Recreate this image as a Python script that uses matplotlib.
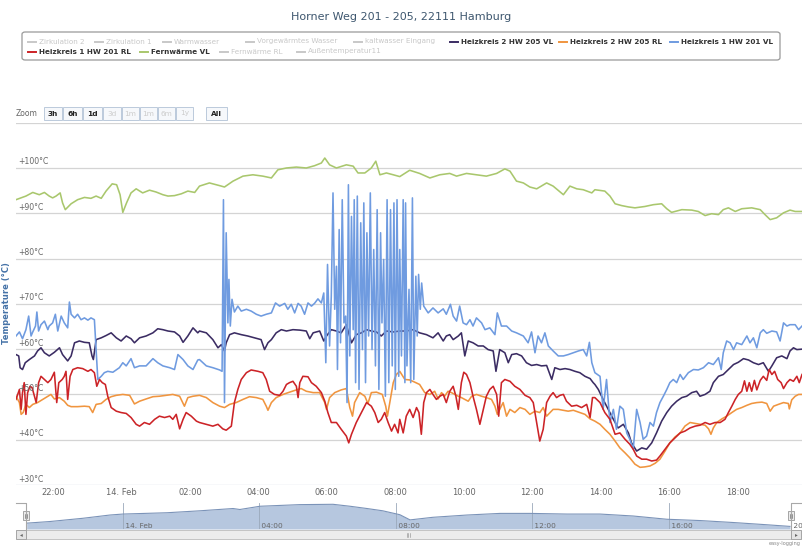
import matplotlib
matplotlib.use("Agg")
import matplotlib.pyplot as plt
from matplotlib.patches import Rectangle, FancyBboxPatch
from matplotlib.lines import Line2D
import matplotlib.transforms as mtransforms

W, H = 802, 546

# ---------------- data (hours relative to 14. Feb 00:00, °C) ----------------
fernwaerme_vl = [
    (-3.08, 93.0), (-2.79, 93.8), (-2.59, 94.6), (-2.40, 94.1), (-2.25, 94.6), (-2.11, 93.8), (-2.01, 93.4),
    (-1.91, 93.8), (-1.79, 94.5), (-1.72, 92.3), (-1.64, 90.8), (-1.47, 92.1), (-1.28, 93.0), (-1.08, 93.5),
    (-0.89, 93.3), (-0.74, 93.8), (-0.59, 93.3), (-0.45, 94.9), (-0.27, 96.5), (-0.14, 96.3), (-0.04, 94.1),
    (0.04, 90.2), (0.15, 92.3), (0.28, 94.5), (0.43, 95.4), (0.62, 94.5), (0.82, 95.1), (1.01, 94.7),
    (1.21, 94.1), (1.36, 93.8), (1.55, 93.9), (1.75, 94.3), (1.94, 94.9), (2.14, 94.6), (2.28, 96.0),
    (2.57, 96.7), (2.87, 96.1), (3.01, 95.8), (3.26, 97.1), (3.55, 98.2), (3.84, 98.5), (4.13, 98.2),
    (4.38, 97.8), (4.57, 99.6), (4.82, 100.0), (5.11, 100.2), (5.40, 100.0), (5.64, 100.5), (5.84, 101.1),
    (5.94, 102.2), (6.08, 100.7), (6.28, 100.0), (6.57, 100.7), (6.77, 100.4), (6.91, 98.9), (7.11, 98.9),
    (7.30, 100.0), (7.43, 101.5), (7.55, 98.5), (7.74, 98.9), (7.94, 98.5), (8.13, 98.1), (8.42, 99.5),
    (8.71, 98.8), (9.01, 97.8), (9.30, 98.5), (9.59, 98.8), (9.79, 98.2), (10.08, 98.8), (10.37, 98.5),
    (10.66, 98.2), (10.96, 98.8), (11.20, 99.8), (11.35, 99.3), (11.54, 97.1), (11.74, 96.7), (11.93, 95.8),
    (12.13, 95.4), (12.42, 96.7), (12.61, 96.0), (12.91, 94.1), (13.10, 96.0), (13.30, 95.4), (13.49, 95.2),
    (13.74, 94.5), (13.83, 95.2), (14.12, 94.9), (14.27, 93.8), (14.42, 92.1), (14.61, 91.7), (14.81, 91.4),
    (15.00, 91.2), (15.29, 91.5), (15.54, 91.9), (15.78, 92.1), (15.93, 91.0), (16.07, 90.2), (16.37, 90.8),
    (16.66, 90.7), (16.85, 90.4), (17.05, 89.5), (17.24, 89.9), (17.44, 89.7), (17.58, 90.8), (17.73, 91.2),
    (17.93, 90.4), (18.12, 91.0), (18.41, 91.2), (18.66, 90.8), (18.80, 89.7), (18.95, 88.6), (19.14, 89.0),
    (19.34, 90.1), (19.53, 90.7), (19.68, 90.4), (19.88, 90.4)]

hk1_vl = [
    (-3.08, 62.9), (-2.98, 63.8), (-2.89, 62.3), (-2.79, 64.3), (-2.71, 67.3), (-2.64, 62.9), (-2.59, 63.8),
    (-2.51, 65.1), (-2.47, 68.2), (-2.42, 64.0), (-2.35, 65.4), (-2.25, 66.2), (-2.15, 64.3), (-2.11, 65.1),
    (-2.01, 65.8), (-1.93, 67.7), (-1.86, 64.0), (-1.76, 67.3), (-1.67, 65.8), (-1.57, 64.7), (-1.52, 70.4),
    (-1.47, 67.7), (-1.37, 66.9), (-1.28, 67.7), (-1.18, 66.5), (-1.08, 66.9), (-0.98, 66.4), (-0.89, 66.9),
    (-0.79, 66.5), (-0.74, 59.9), (-0.69, 53.3), (-0.59, 54.0), (-0.50, 54.8), (-0.40, 55.1), (-0.25, 54.9),
    (-0.06, 55.9), (0.04, 57.0), (0.14, 56.3), (0.28, 57.9), (0.38, 55.9), (0.53, 56.3), (0.72, 56.3),
    (0.92, 57.9), (1.06, 57.0), (1.21, 56.3), (1.41, 55.9), (1.55, 55.5), (1.65, 58.8), (1.80, 57.7),
    (1.94, 56.3), (2.09, 55.5), (2.23, 57.6), (2.28, 57.7), (2.48, 56.3), (2.67, 55.9), (2.87, 55.4),
    (2.94, 55.1), (2.98, 93.0), (3.01, 48.2), (3.06, 85.7), (3.11, 65.8), (3.14, 75.4), (3.18, 65.1),
    (3.23, 71.0), (3.30, 68.2), (3.40, 69.5), (3.50, 68.4), (3.65, 68.8), (3.79, 68.4), (3.94, 67.7),
    (4.08, 67.3), (4.23, 67.7), (4.38, 68.0), (4.50, 70.2), (4.62, 69.5), (4.77, 70.1), (4.86, 68.8),
    (4.96, 69.9), (5.06, 68.0), (5.16, 70.1), (5.25, 69.5), (5.35, 67.7), (5.45, 70.2), (5.55, 69.5),
    (5.64, 70.1), (5.74, 71.1), (5.84, 70.2), (5.91, 72.4), (5.97, 57.0), (6.02, 78.7), (6.08, 60.7),
    (6.13, 71.7), (6.18, 94.5), (6.23, 68.8), (6.28, 78.3), (6.31, 55.5), (6.36, 86.4), (6.40, 61.4),
    (6.45, 93.0), (6.50, 65.8), (6.55, 67.3), (6.59, 48.2), (6.63, 96.3), (6.67, 58.5), (6.72, 89.3),
    (6.77, 64.3), (6.80, 93.0), (6.84, 52.6), (6.89, 93.8), (6.94, 51.1), (6.99, 87.9), (7.04, 59.9),
    (7.08, 92.3), (7.13, 52.6), (7.17, 85.7), (7.22, 62.9), (7.27, 94.5), (7.32, 59.9), (7.37, 82.0),
    (7.42, 56.3), (7.47, 90.8), (7.52, 51.1), (7.57, 85.7), (7.61, 65.8), (7.66, 79.8), (7.71, 49.6),
    (7.76, 93.0), (7.81, 52.6), (7.86, 90.8), (7.91, 56.3), (7.96, 92.3), (8.00, 51.1), (8.05, 93.0),
    (8.10, 54.0), (8.13, 82.0), (8.18, 58.5), (8.23, 93.0), (8.28, 52.6), (8.30, 92.3), (8.34, 56.3),
    (8.40, 73.2), (8.45, 52.6), (8.50, 93.4), (8.54, 53.3), (8.60, 76.1), (8.64, 62.9), (8.68, 76.5),
    (8.73, 68.8), (8.77, 74.6), (8.83, 69.5), (8.96, 68.0), (9.10, 69.1), (9.25, 68.0), (9.40, 68.9),
    (9.49, 67.7), (9.61, 69.9), (9.69, 67.3), (9.79, 66.2), (9.88, 69.5), (9.98, 65.8), (10.08, 65.4),
    (10.18, 66.5), (10.27, 65.1), (10.37, 66.9), (10.52, 65.8), (10.62, 64.3), (10.76, 64.7), (10.91, 63.2),
    (10.98, 68.0), (11.10, 65.1), (11.25, 65.1), (11.40, 64.0), (11.54, 63.6), (11.74, 62.9), (11.88, 61.4),
    (11.98, 63.8), (12.08, 59.2), (12.17, 62.9), (12.27, 61.4), (12.37, 63.6), (12.47, 60.7), (12.61, 59.6),
    (12.76, 58.5), (12.91, 58.5), (13.05, 58.8), (13.20, 59.2), (13.35, 59.6), (13.49, 59.9), (13.59, 58.5),
    (13.67, 61.5), (13.74, 57.0), (13.83, 54.8), (13.98, 54.0), (14.07, 46.7), (14.17, 53.3), (14.27, 43.8),
    (14.37, 46.7), (14.46, 42.3), (14.56, 47.4), (14.66, 46.7), (14.76, 41.5), (14.85, 40.1), (14.95, 37.9),
    (15.05, 46.7), (15.15, 43.8), (15.24, 40.1), (15.34, 40.8), (15.44, 43.8), (15.54, 43.0), (15.63, 46.0),
    (15.73, 48.2), (15.83, 49.6), (15.93, 51.1), (16.02, 52.6), (16.12, 53.3), (16.22, 52.6), (16.32, 54.4),
    (16.41, 53.3), (16.56, 54.8), (16.71, 55.5), (16.85, 55.4), (17.00, 55.9), (17.15, 57.0), (17.29, 56.6),
    (17.44, 58.1), (17.52, 55.5), (17.58, 59.2), (17.68, 61.8), (17.78, 61.4), (17.88, 59.9), (17.97, 61.4),
    (18.12, 61.0), (18.27, 62.9), (18.36, 61.4), (18.46, 62.5), (18.56, 60.3), (18.66, 63.6), (18.75, 64.3),
    (18.85, 63.5), (19.00, 64.0), (19.14, 63.8), (19.24, 61.8), (19.34, 65.8), (19.44, 65.1), (19.53, 65.4),
    (19.68, 65.4), (19.78, 64.3), (19.88, 65.1)]

hk2_vl = [
    (-3.08, 58.8), (-3.00, 58.5), (-2.96, 55.9), (-2.89, 55.5), (-2.81, 57.0), (-2.69, 57.7), (-2.54, 58.5),
    (-2.45, 59.6), (-2.35, 60.3), (-2.25, 59.2), (-2.11, 58.5), (-1.96, 59.3), (-1.81, 60.3), (-1.72, 58.8),
    (-1.57, 57.4), (-1.47, 58.5), (-1.37, 61.4), (-1.23, 61.8), (-1.08, 61.5), (-0.94, 61.4), (-0.86, 58.5),
    (-0.82, 57.7), (-0.74, 62.1), (-0.59, 62.5), (-0.45, 63.0), (-0.30, 63.6), (-0.15, 62.5), (-0.01, 61.8),
    (0.14, 62.9), (0.28, 62.3), (0.38, 61.4), (0.53, 62.5), (0.72, 62.9), (0.92, 63.6), (1.06, 64.5),
    (1.21, 64.3), (1.36, 64.0), (1.55, 63.8), (1.70, 62.9), (1.80, 61.5), (1.94, 62.9), (2.09, 64.7),
    (2.23, 63.6), (2.28, 64.0), (2.48, 63.6), (2.67, 62.1), (2.82, 60.3), (2.92, 61.0), (3.01, 59.6),
    (3.06, 61.4), (3.16, 63.2), (3.30, 63.6), (3.50, 63.2), (3.69, 62.9), (3.89, 62.5), (4.08, 62.1),
    (4.18, 59.9), (4.28, 61.4), (4.38, 62.1), (4.52, 63.6), (4.67, 64.3), (4.82, 64.0), (5.01, 64.3),
    (5.21, 64.2), (5.40, 64.0), (5.50, 62.3), (5.60, 63.6), (5.79, 64.0), (5.91, 61.8), (5.99, 62.9),
    (6.13, 64.3), (6.28, 64.0), (6.42, 63.6), (6.57, 65.4), (6.72, 61.4), (6.86, 63.2), (7.01, 63.6),
    (7.16, 64.3), (7.30, 64.0), (7.45, 63.8), (7.59, 62.9), (7.74, 64.0), (7.94, 63.8), (8.13, 64.0),
    (8.32, 64.0), (8.52, 64.3), (8.71, 63.6), (8.91, 63.2), (9.10, 62.5), (9.25, 63.6), (9.40, 61.8),
    (9.49, 62.9), (9.59, 63.2), (9.69, 62.1), (9.84, 62.9), (9.93, 63.6), (10.03, 58.5), (10.13, 61.8),
    (10.27, 61.4), (10.42, 60.7), (10.57, 60.7), (10.71, 59.9), (10.86, 59.6), (10.94, 55.1), (11.05, 59.9),
    (11.20, 59.2), (11.30, 57.0), (11.40, 58.8), (11.54, 59.0), (11.69, 58.5), (11.83, 57.0), (11.98, 56.4),
    (12.13, 56.6), (12.27, 56.3), (12.42, 56.4), (12.57, 53.3), (12.66, 55.9), (12.81, 55.5), (12.96, 55.7),
    (13.10, 55.5), (13.25, 55.1), (13.39, 54.8), (13.54, 54.0), (13.69, 53.5), (13.78, 52.6), (13.83, 52.2),
    (13.93, 51.1), (14.07, 48.9), (14.22, 46.7), (14.37, 44.5), (14.51, 42.6), (14.66, 43.4), (14.81, 41.5),
    (14.90, 39.3), (15.05, 37.5), (15.20, 38.2), (15.34, 37.9), (15.49, 39.3), (15.63, 41.5), (15.78, 44.1),
    (15.93, 46.0), (16.07, 47.4), (16.22, 48.5), (16.37, 49.3), (16.51, 49.6), (16.66, 50.4), (16.80, 50.7),
    (16.90, 49.6), (17.05, 50.0), (17.19, 50.7), (17.29, 52.6), (17.44, 54.0), (17.58, 54.4), (17.73, 55.5),
    (17.88, 56.6), (18.02, 57.1), (18.17, 57.9), (18.32, 57.6), (18.46, 57.0), (18.61, 56.6), (18.75, 57.0),
    (18.90, 55.1), (19.00, 56.3), (19.14, 58.1), (19.29, 58.5), (19.44, 57.9), (19.53, 59.6), (19.63, 60.3),
    (19.73, 59.9), (19.88, 60.0)]

hk1_rl = [
    (-3.08, 48.9), (-3.03, 50.0), (-2.98, 51.1), (-2.93, 46.7), (-2.89, 50.4), (-2.84, 52.6), (-2.79, 45.6),
    (-2.74, 50.4), (-2.67, 51.8), (-2.61, 51.5), (-2.54, 49.6), (-2.49, 48.2), (-2.42, 52.6), (-2.35, 54.0),
    (-2.25, 53.3), (-2.15, 52.6), (-2.06, 53.3), (-1.96, 54.9), (-1.89, 48.2), (-1.83, 52.6), (-1.73, 53.3),
    (-1.67, 54.0), (-1.62, 55.1), (-1.57, 48.9), (-1.50, 54.0), (-1.42, 55.5), (-1.28, 55.9), (-1.13, 55.7),
    (-0.98, 55.1), (-0.89, 55.5), (-0.79, 54.8), (-0.72, 51.8), (-0.64, 53.3), (-0.56, 52.6), (-0.47, 52.2),
    (-0.40, 49.6), (-0.30, 47.1), (-0.15, 46.3), (-0.01, 46.0), (0.14, 45.8), (0.28, 44.9), (0.43, 43.4),
    (0.53, 43.0), (0.67, 43.8), (0.82, 43.4), (0.97, 44.5), (1.11, 45.2), (1.26, 44.9), (1.41, 45.2),
    (1.50, 44.5), (1.60, 45.6), (1.70, 42.4), (1.80, 44.5), (1.89, 46.0), (2.04, 45.2), (2.19, 44.1),
    (2.28, 43.8), (2.48, 43.4), (2.67, 43.0), (2.82, 43.4), (2.96, 42.4), (3.06, 42.1), (3.21, 43.0),
    (3.30, 48.2), (3.40, 51.1), (3.50, 53.3), (3.65, 54.8), (3.79, 55.4), (3.99, 55.1), (4.13, 54.8),
    (4.23, 53.3), (4.33, 50.7), (4.47, 50.0), (4.62, 49.8), (4.72, 50.7), (4.82, 52.2), (4.91, 52.6),
    (5.01, 52.9), (5.11, 51.8), (5.16, 49.3), (5.21, 52.6), (5.30, 54.0), (5.45, 53.9), (5.55, 52.6),
    (5.69, 51.8), (5.84, 50.4), (5.94, 48.5), (6.03, 46.0), (6.13, 43.8), (6.28, 43.8), (6.42, 42.3),
    (6.57, 40.8), (6.64, 39.3), (6.72, 41.2), (6.86, 43.8), (7.01, 46.0), (7.16, 48.2), (7.30, 47.4),
    (7.40, 46.0), (7.50, 43.8), (7.59, 44.5), (7.69, 46.0), (7.79, 43.8), (7.89, 41.9), (7.98, 43.4),
    (8.08, 41.5), (8.13, 44.5), (8.23, 41.5), (8.32, 45.2), (8.42, 46.7), (8.52, 44.9), (8.62, 47.1),
    (8.69, 46.0), (8.76, 41.2), (8.83, 48.2), (8.91, 50.4), (9.01, 51.1), (9.10, 50.0), (9.20, 48.9),
    (9.30, 49.6), (9.40, 50.0), (9.49, 48.2), (9.59, 50.7), (9.69, 51.8), (9.77, 49.6), (9.84, 46.7),
    (9.93, 52.6), (10.00, 54.9), (10.08, 54.4), (10.18, 52.6), (10.27, 49.6), (10.37, 46.7), (10.47, 43.4),
    (10.57, 46.7), (10.66, 49.6), (10.76, 51.1), (10.86, 51.8), (10.96, 50.0), (11.02, 45.2), (11.10, 52.6),
    (11.20, 53.3), (11.35, 52.9), (11.49, 51.8), (11.64, 51.1), (11.79, 49.8), (11.93, 49.3), (12.03, 48.2),
    (12.13, 43.8), (12.22, 39.7), (12.32, 42.3), (12.42, 48.2), (12.52, 49.6), (12.61, 50.4), (12.71, 49.3),
    (12.81, 49.8), (12.91, 50.0), (13.00, 48.5), (13.15, 47.4), (13.30, 47.6), (13.44, 47.1), (13.59, 47.8),
    (13.69, 44.9), (13.76, 49.3), (13.83, 49.3), (13.98, 48.2), (14.12, 46.0), (14.27, 44.5), (14.42, 41.2),
    (14.56, 41.5), (14.71, 40.1), (14.85, 39.0), (14.95, 37.9), (15.05, 36.4), (15.20, 35.7), (15.34, 35.7),
    (15.49, 35.3), (15.63, 35.5), (15.73, 36.4), (15.88, 37.9), (16.02, 39.3), (16.17, 40.4), (16.32, 41.5),
    (16.46, 41.9), (16.61, 42.6), (16.76, 43.0), (16.90, 43.2), (17.05, 43.8), (17.19, 43.4), (17.34, 43.8),
    (17.49, 43.8), (17.63, 44.5), (17.73, 46.0), (17.83, 47.4), (17.93, 48.9), (18.02, 50.0), (18.12, 50.7),
    (18.20, 53.0), (18.27, 50.7), (18.34, 52.6), (18.41, 50.7), (18.49, 53.1), (18.56, 51.0), (18.66, 53.1),
    (18.75, 54.0), (18.85, 53.1), (18.92, 55.5), (19.00, 54.4), (19.08, 55.1), (19.17, 53.3), (19.27, 52.6),
    (19.34, 51.3), (19.44, 52.6), (19.53, 53.3), (19.63, 52.9), (19.73, 54.0), (19.80, 52.6), (19.88, 54.4)]

hk2_rl = [
    (-3.08, 49.6), (-2.98, 48.2), (-2.93, 45.6), (-2.87, 46.0), (-2.79, 47.8), (-2.69, 47.1), (-2.59, 47.8),
    (-2.45, 48.2), (-2.30, 48.9), (-2.15, 49.6), (-2.06, 50.0), (-1.96, 49.0), (-1.81, 49.3), (-1.67, 48.5),
    (-1.57, 47.6), (-1.47, 47.3), (-1.28, 47.3), (-1.08, 47.4), (-0.94, 47.3), (-0.84, 46.0), (-0.74, 47.8),
    (-0.59, 48.0), (-0.45, 48.9), (-0.30, 49.5), (-0.15, 49.8), (0.04, 50.0), (0.24, 49.8), (0.38, 47.9),
    (0.53, 48.5), (0.72, 49.0), (0.92, 49.5), (1.11, 49.6), (1.31, 49.8), (1.50, 50.0), (1.70, 49.6),
    (1.84, 47.4), (1.94, 49.3), (2.09, 49.6), (2.28, 49.8), (2.48, 49.3), (2.67, 48.2), (2.87, 47.4),
    (3.01, 47.1), (3.16, 47.8), (3.35, 48.2), (3.55, 48.9), (3.74, 49.5), (3.94, 49.3), (4.13, 48.9),
    (4.23, 47.4), (4.28, 46.5), (4.38, 48.2), (4.52, 49.3), (4.72, 50.0), (4.91, 50.5), (5.11, 51.0),
    (5.25, 51.3), (5.40, 50.7), (5.60, 50.4), (5.79, 50.4), (5.94, 48.2), (5.99, 46.7), (6.08, 49.3),
    (6.23, 50.4), (6.42, 51.0), (6.57, 51.3), (6.67, 47.1), (6.75, 45.2), (6.81, 48.2), (6.96, 50.4),
    (7.11, 49.6), (7.20, 48.0), (7.30, 50.4), (7.45, 50.5), (7.62, 50.0), (7.72, 47.4), (7.77, 45.2),
    (7.84, 48.2), (7.94, 52.6), (8.03, 54.4), (8.13, 55.1), (8.28, 53.3), (8.42, 53.2), (8.57, 52.7),
    (8.71, 52.2), (8.86, 50.4), (9.01, 50.0), (9.15, 50.7), (9.25, 49.0), (9.35, 50.4), (9.44, 49.6),
    (9.54, 50.7), (9.64, 50.4), (9.74, 50.0), (9.84, 49.6), (9.93, 49.3), (10.03, 48.9), (10.13, 48.5),
    (10.23, 49.6), (10.37, 50.0), (10.52, 49.6), (10.66, 49.3), (10.81, 48.9), (10.91, 47.4), (10.98, 45.6),
    (11.05, 46.7), (11.15, 48.2), (11.25, 45.2), (11.35, 46.7), (11.49, 46.0), (11.64, 47.1), (11.79, 46.7),
    (11.93, 45.6), (12.08, 46.3), (12.22, 46.0), (12.32, 47.1), (12.42, 45.2), (12.52, 46.0), (12.61, 46.7),
    (12.76, 46.7), (12.91, 46.5), (13.05, 46.3), (13.20, 46.5), (13.39, 46.0), (13.54, 45.6), (13.69, 44.6),
    (13.83, 44.1), (13.98, 43.4), (14.12, 42.3), (14.27, 41.2), (14.42, 39.7), (14.56, 38.2), (14.71, 37.1),
    (14.85, 36.0), (15.00, 34.6), (15.15, 33.9), (15.29, 34.0), (15.44, 34.2), (15.59, 34.8), (15.73, 35.7),
    (15.88, 37.5), (16.02, 39.3), (16.17, 40.6), (16.32, 41.5), (16.46, 43.0), (16.61, 43.8), (16.76, 43.6),
    (16.90, 43.4), (17.05, 43.2), (17.15, 42.4), (17.22, 41.2), (17.29, 42.6), (17.39, 43.8), (17.54, 44.6),
    (17.68, 45.2), (17.83, 46.0), (17.97, 46.7), (18.12, 47.1), (18.27, 47.6), (18.41, 48.0), (18.56, 48.2),
    (18.71, 48.3), (18.85, 48.0), (18.95, 46.3), (19.05, 47.4), (19.19, 47.8), (19.34, 48.2), (19.48, 48.0),
    (19.51, 46.8), (19.58, 48.8), (19.68, 49.6), (19.78, 50.0), (19.88, 50.0)]

# navigator series (relative level)
navigator_series = [
    (-2.82, 18), (-2.14, 23), (-1.17, 33), (-0.38, 43), (0.00, 46), (1.29, 50), (2.26, 56), (3.23, 63),
    (3.43, 60), (4.02, 70), (5.19, 75), (6.16, 76), (6.66, 70), (7.16, 63), (7.62, 56), (8.12, 44),
    (8.42, 28), (9.09, 36), (10.09, 43), (11.06, 48), (11.94, 48), (13.02, 46), (13.99, 46), (14.96, 40),
    (15.95, 30), (16.92, 26), (17.89, 20), (18.89, 13), (19.56, 8)]

y_ticks = [30, 40, 50, 60, 70, 80, 90, 100]
y_gridlines = [30, 40, 50, 60, 70, 80, 90, 100, 110]
x_ticks = [-2, 0, 2, 4, 6, 8, 10, 12, 14, 16, 18]
x_labels = ["22:00", "14. Feb", "02:00", "04:00", "06:00", "08:00", "10:00", "12:00", "14:00", "16:00", "18:00"]
nav_ticks = [0, 4, 8, 12, 16]
nav_labels = ["14. Feb", "04:00", "08:00", "12:00", "16:00"]

legend_row1 = ["Zirkulation 2", "Zirkulation 1", "Warmwasser", "Vorgewärmtes Wasser", "kaltwasser Eingang",
               "Heizkreis 2 HW 205 VL", "Heizkreis 2 HW 205 RL", "Heizkreis 1 HW 201 VL"]
legend_row2 = ["Heizkreis 1 HW 201 RL", "Fernwärme VL", "Fernwärme RL", "Außentemperatur11"]
zoom_buttons = ["3h", "6h", "1d", "3d", "1m", "1m", "6m", "1y", "All"]
zoom_enabled = [True, True, True, False, False, False, False, False, True]

C_NAVY = "#3b2c63"
C_ORANGE = "#f0953f"
C_BLUE = "#6f9be0"
C_RED = "#cc2327"
C_GREEN = "#a9c76d"
HIDDEN = "#c8c8c8"

series = [
    ("Heizkreis 2 HW 205 VL", hk2_vl, C_NAVY),
    ("Heizkreis 2 HW 205 RL", hk2_rl, C_ORANGE),
    ("Heizkreis 1 HW 201 VL", hk1_vl, C_BLUE),
    ("Heizkreis 1 HW 201 RL", hk1_rl, C_RED),
    ("Fernwärme VL", fernwaerme_vl, C_GREEN),
]
legend_colors = {"Heizkreis 2 HW 205 VL": C_NAVY, "Heizkreis 2 HW 205 RL": C_ORANGE,
                 "Heizkreis 1 HW 201 VL": C_BLUE, "Heizkreis 1 HW 201 RL": C_RED,
                 "Fernwärme VL": C_GREEN}

plt.rcParams['font.family'] = ['DejaVu Sans']

fig = plt.figure(figsize=(W / 100, H / 100), dpi=100)
fig.patch.set_facecolor("white")


def fx(x):
    return x / W


def fy(y):
    return 1 - y / H


# ---------------- main plot ----------------
ax = fig.add_axes([fx(16), fy(485), (802 - 16) / W, (485 - 122.7) / H])
ax.set_xlim(-3.08, 19.88)
ax.set_ylim(30, 110)
for s in ax.spines.values():
    s.set_visible(False)
for g in y_gridlines:
    ax.axhline(g, color="#d4d4d4" if g > 30 else "#c0c8d8", lw=0.9, zorder=0)

for name, data, col in series:
    xs = [p[0] for p in data]
    ys = [p[1] for p in data]
    ax.plot(xs, ys, color=col, lw=1.15, solid_joinstyle="round", zorder=2)

ax.set_yticks([])
ax.set_xticks(x_ticks)
ax.set_xticklabels(x_labels, fontsize=6, color="#666666")
ax.tick_params(axis="x", length=0, pad=2.5)

off = mtransforms.offset_copy(ax.get_yaxis_transform(), fig=fig, x=2, y=1.5, units="dots")
for t in y_ticks:
    ax.text(0, t, "+%d°C" % t, transform=off, fontsize=5.6, color="#666666", ha="left", va="bottom")

fig.text(fx(7), fy(303), "Temperature (°C)", rotation=90, ha="center", va="center",
         fontsize=6, color="#4572a7", fontweight="bold")

# ---------------- title ----------------
fig.text(0.5, fy(17), "Horner Weg 201 - 205, 22111 Hamburg", ha="center", va="center",
         fontsize=8, color="#3e576f")

# ---------------- legend ----------------
fig.add_artist(FancyBboxPatch((fx(22), fy(60)), (780 - 22) / W, (60 - 32) / H,
                              boxstyle="round,pad=0,rounding_size=0.004", transform=fig.transFigure,
                              facecolor="none", edgecolor="#999999", lw=0.9))
row1_x = [28, 95, 163, 246, 354, 450, 559, 670]
row2_x = [28, 140, 220, 297]
for labels, xs, yrow in ((legend_row1, row1_x, 41.5), (legend_row2, row2_x, 51.5)):
    for lab, x0 in zip(labels, xs):
        col = legend_colors.get(lab, HIDDEN)
        visible = lab in legend_colors
        fig.add_artist(Line2D([fx(x0), fx(x0 + 8)], [fy(yrow), fy(yrow)], transform=fig.transFigure,
                              color=col, lw=1.4))
        fig.text(fx(x0 + 11), fy(yrow), lab, fontsize=5.2, va="center", ha="left",
                 color="#333333" if visible else HIDDEN,
                 fontweight="bold" if visible else "normal")

# ---------------- zoom buttons ----------------
fig.text(fx(16), fy(114), "Zoom", fontsize=5.5, color="#666666", va="center", ha="left")
btn_x = [44, 63, 83, 103, 122, 140, 158, 176, 206]
btn_w = [18, 19, 19, 18, 17, 17, 17, 17, 21]
for lab, x0, w, en in zip(zoom_buttons, btn_x, btn_w, zoom_enabled):
    fig.add_artist(Rectangle((fx(x0), fy(120)), w / W, 13 / H, transform=fig.transFigure,
                             facecolor="#f6f8fb", edgecolor="#bccadb", lw=0.7))
    fig.text(fx(x0 + w / 2), fy(113.5), lab, fontsize=5.3, ha="center", va="center",
             color="#222222" if en else "#cccccc", fontweight="bold" if en else "normal")

# ---------------- navigator ----------------
nav = fig.add_axes([fx(26), fy(529), (791 - 26) / W, (529 - 503) / H])
nav.set_xlim(-2.84, 19.59)
nav.set_ylim(0, 80)
for s in nav.spines.values():
    s.set_visible(False)
nx = [p[0] for p in navigator_series]
ny = [p[1] for p in navigator_series]
nav.fill_between(nx, ny, 0, color="#b6c7df", lw=0, zorder=1)
nav.plot(nx, ny, color="#7b93b8", lw=0.8, zorder=2)
for t, lab in zip(nav_ticks, nav_labels):
    nav.axvline(t, color="#9aa8ba", lw=0.6, zorder=1.5)
    nav.text(t, 10, " " + lab, fontsize=5.3, color="#666666", ha="left", va="center")
nav.text(1.0, 10, " 20", transform=mtransforms.blended_transform_factory(nav.transAxes, nav.transData),
         fontsize=5.3, color="#666666", ha="left", va="center", clip_on=False)
nav.set_xticks([])
nav.set_yticks([])
nav.patch.set_alpha(0)

outline = "#a8a8a8"
fig.add_artist(Line2D([fx(16), fx(26), fx(26)], [fy(503), fy(503), fy(529)], transform=fig.transFigure,
                      color=outline, lw=0.8))
fig.add_artist(Line2D([fx(791), fx(791), fx(802)], [fy(529), fy(503), fy(503)], transform=fig.transFigure,
                      color=outline, lw=0.8))
for hx in (23, 788):
    fig.add_artist(Rectangle((fx(hx), fy(520)), 6 / W, 9 / H, transform=fig.transFigure,
                             facecolor="#ebebeb", edgecolor="#999999", lw=0.6))
    for dx in (2.2, 3.8):
        fig.add_artist(Line2D([fx(hx + dx), fx(hx + dx)], [fy(513.5), fy(517.5)], transform=fig.transFigure,
                              color="#555555", lw=0.4))

# scrollbar
fig.add_artist(Rectangle((fx(26), fy(539)), (791 - 26) / W, 9 / H, transform=fig.transFigure,
                         facecolor="#ececec", edgecolor="#bbbbbb", lw=0.6))
for bx in (16, 791):
    fig.add_artist(Rectangle((fx(bx), fy(539)), 10 / W, 9 / H, transform=fig.transFigure,
                             facecolor="#e4e4e4", edgecolor="#999999", lw=0.6))
fig.text(fx(21), fy(534.5), "◂", fontsize=4, ha="center", va="center", color="#666666")
fig.text(fx(796.5), fy(534.5), "▸", fontsize=4, ha="center", va="center", color="#666666")
for dx in (-1.5, 0, 1.5):
    fig.add_artist(Line2D([fx(408 + dx), fx(408 + dx)], [fy(532.5), fy(536.5)], transform=fig.transFigure,
                          color="#888888", lw=0.4))

fig.text(fx(801), fy(543), "easy-logging", fontsize=3.6, ha="right", va="center", color="#888888")

fig.savefig("out.png", dpi=100)
